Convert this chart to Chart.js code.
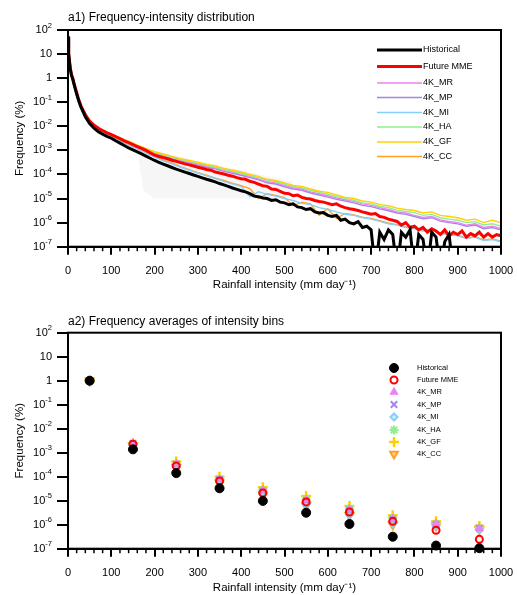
<!DOCTYPE html>
<html>
<head>
<meta charset="utf-8">
<script src="https://cdn.jsdelivr.net/npm/chart.js@4/dist/chart.umd.min.js"></script>
<style>
  body { margin: 0; background: #fff; width: 517px; height: 595px; overflow: hidden; position: relative; }
  canvas { position: absolute; left: 0; }
  #top { top: 0; }
  #bottom { top: 300px; }
</style>
</head>
<body>
<canvas id="top" width="517" height="300"></canvas>
<canvas id="bottom" width="517" height="295"></canvas>
<script>
// series names / colours
const seriesNames = ["Historical", "Future MME", "4K_MR", "4K_MP", "4K_MI", "4K_HA", "4K_GF", "4K_CC"];
const seriesColors = ["#000000", "#ff0000", "#ee82ee", "#a385ee", "#87cefa", "#90ee90", "#ffd000", "#ffa020"];

// y ticks: value, base text, exponent text
const yTickValues = [1e-7, 1e-6, 1e-5, 1e-4, 1e-3, 1e-2, 1e-1, 1, 10, 100];
const yTickBase = ["10", "10", "10", "10", "10", "10", "10", "1", "10", "10"];
const yTickExp = ["-7", "-6", "-5", "-4", "-3", "-2", "-1", "", "", "2"];

// a1) rainfall intensity (mm/day) vs frequency (%)
const fineX = [0, 1, 2, 3, 5, 8, 11, 15, 20, 25, 30, 40, 50, 60, 70, 80, 90,
  100, 110, 120, 130, 140, 150, 160, 170, 180, 190,
  200, 210, 220, 230, 240, 250, 260, 270, 280, 290,
  300, 310, 320, 330, 340, 350, 360, 370, 380, 390,
  400, 410, 420, 430, 440, 450, 460, 470, 480, 490,
  500, 510, 520, 530, 540, 550, 560, 570, 580, 590,
  600, 610, 620, 630, 640, 650, 660, 670, 680, 690,
  700, 710, 720, 730, 740, 750, 760, 770, 780, 790,
  800, 810, 820, 830, 840, 850, 860, 870, 880, 890,
  900, 910, 920, 930, 940, 950, 960, 970, 980, 990, 1000];

const histFreq = [50, 20, 10, 5.6, 2.6, 1.3, 0.9, 0.47, 0.22, 0.11, 0.063, 0.025, 0.013, 8.3e-3, 6.0e-3, 4.7e-3, 3.8e-3,
  3.2e-3, 2.5e-3, 2.0e-3, 1.6e-3, 1.26e-3, 1.05e-3, 8.7e-4, 7.2e-4, 5.8e-4, 4.7e-4,
  3.8e-4, 3.2e-4, 2.7e-4, 2.3e-4, 1.95e-4, 1.66e-4, 1.45e-4, 1.26e-4, 1.1e-4, 9.5e-5,
  8.3e-5, 7.2e-5, 6.3e-5, 5.6e-5, 4.9e-5, 4.2e-5, 3.7e-5, 3.2e-5, 2.75e-5, 2.4e-5,
  2.1e-5, 1.9e-5, 1.6e-5, 1.26e-5, 1.2e-5, 1.05e-5, 1.0e-5, 8.3e-6, 8.9e-6, 7.1e-6,
  6.6e-6, 5.6e-6, 6.0e-6, 4.5e-6, 4.2e-6, 3.5e-6, 3.8e-6, 2.8e-6, 2.5e-6, 2.6e-6,
  2.0e-6, 1.8e-6, 2.0e-6, 1.26e-6, 1.4e-6, 1.0e-6, 8.9e-7, 1.1e-6, 6.3e-7, 7.1e-7,
  5.0e-7, 1e-8, 4.0e-7, 2.0e-7, 5.0e-7, 3.2e-7, 1e-8, 4.0e-7, 2.5e-7, 5.0e-7,
  1e-8, 3.2e-7, 2.0e-7, 1e-8, 4.0e-7, 2.5e-7, 1e-8, 1.6e-7, 3.2e-7, 1e-8,
  null, null, null, null, null, null, null, null, null, null, null];

const mmeFreq = [56, 21, 10.7, 6.0, 2.8, 1.4, 1.0, 0.52, 0.25, 0.126, 0.071, 0.030, 0.0166, 0.011, 8.3e-3, 6.6e-3, 5.4e-3,
  4.5e-3, 3.7e-3, 3.1e-3, 2.5e-3, 2.1e-3, 1.74e-3, 1.45e-3, 1.2e-3, 1.0e-3, 7.9e-4,
  6.3e-4, 5.6e-4, 5.0e-4, 4.5e-4, 3.9e-4, 3.5e-4, 3.1e-4, 2.75e-4, 2.5e-4, 2.24e-4,
  2.0e-4, 1.8e-4, 1.6e-4, 1.5e-4, 1.26e-4, 1.15e-4, 1.05e-4, 9.3e-5, 8.5e-5, 7.4e-5,
  6.6e-5, 6.3e-5, 5.2e-5, 4.7e-5, 4.0e-5, 3.4e-5, 3.2e-5, 2.5e-5, 2.4e-5, 2.0e-5,
  1.66e-5, 1.6e-5, 1.3e-5, 1.4e-5, 1.12e-5, 1.0e-5, 9.5e-6, 8.3e-6, 7.6e-6, 7.1e-6,
  6.3e-6, 5.6e-6, 6.0e-6, 4.8e-6, 4.2e-6, 3.8e-6, 3.5e-6, 3.2e-6, 2.8e-6, 2.5e-6,
  2.24e-6, 2.4e-6, 1.8e-6, 1.66e-6, 1.4e-6, 1.26e-6, 1.12e-6, 7.9e-7, 1.0e-6, 6.3e-7,
  7.1e-7, 5.0e-7, 6.3e-7, 4.0e-7, 5.6e-7, 4.5e-7, 3.2e-7, 5.0e-7, 2.8e-7, 4.0e-7,
  3.2e-7, 4.5e-7, 2.5e-7, 3.5e-7, 2.8e-7, 4.0e-7, 2.5e-7, 3.5e-7, 2.5e-7, 3.2e-7, 2.8e-7];

const coarseX = [0, 2, 5, 10, 20, 30, 50, 75,
  100, 120, 140, 160, 180, 200, 220, 240, 260, 280, 300, 320, 340, 360, 380,
  400, 420, 440, 460, 480, 500, 520, 540, 560, 580, 600, 620, 640, 660, 680,
  700, 720, 740, 760, 780, 800, 820, 840, 860, 880, 900, 920, 940, 960, 980, 1000];

const mrFreq = [55, 10.5, 2.8, 1.1, 0.25, 0.07, 0.017, 7.5e-3,
  4.7e-3, 3.2e-3, 2.3e-3, 1.6e-3, 1.12e-3, 7.9e-4, 6.3e-4, 5.0e-4, 4.0e-4, 3.3e-4,
  2.75e-4, 2.24e-4, 1.9e-4, 1.5e-4, 1.26e-4, 1.05e-4, 8.3e-5, 6.6e-5, 5.0e-5, 4.5e-5,
  3.5e-5, 2.8e-5, 2.5e-5, 1.9e-5, 1.6e-5, 1.3e-5, 1.05e-5, 8.9e-6, 7.6e-6, 6.0e-6,
  5.2e-6, 4.2e-6, 3.5e-6, 2.8e-6, 2.5e-6, 2.0e-6, 1.66e-6, 1.8e-6, 1.3e-6, 1.12e-6,
  1.0e-6, 7.9e-7, 8.9e-7, 6.3e-7, 7.1e-7, 5.6e-7];
const mpFreq = [55, 10.5, 2.8, 1.1, 0.25, 0.07, 0.017, 7.5e-3,
  4.6e-3, 3.1e-3, 2.2e-3, 1.5e-3, 1.05e-3, 7.4e-4, 5.9e-4, 4.6e-4, 3.7e-4, 3.0e-4,
  2.5e-4, 2.0e-4, 1.7e-4, 1.35e-4, 1.12e-4, 9.3e-5, 7.4e-5, 6.0e-5, 4.5e-5, 4.0e-5,
  3.1e-5, 2.5e-5, 2.2e-5, 1.7e-5, 1.4e-5, 1.15e-5, 9.3e-6, 7.9e-6, 6.6e-6, 5.2e-6,
  4.6e-6, 3.7e-6, 3.1e-6, 2.5e-6, 2.2e-6, 1.8e-6, 1.45e-6, 1.6e-6, 1.15e-6, 1.0e-6,
  8.9e-7, 7.1e-7, 7.9e-7, 5.6e-7, 6.3e-7, 5.0e-7];
const miFreq = [55, 10.5, 2.8, 1.1, 0.25, 0.07, 0.017, 7.5e-3,
  3.8e-3, 2.5e-3, 1.66e-3, 1.15e-3, 7.9e-4, 5.2e-4, 3.7e-4, 2.75e-4, 2.0e-4, 1.5e-4,
  1.15e-4, 8.7e-5, 6.8e-5, 5.2e-5, 4.0e-5, 3.2e-5, 1.2e-5, 1.9e-5, 1.5e-5, 1.26e-5,
  1.0e-5, 8.3e-6, 6.3e-6, 5.6e-6, 4.2e-6, 3.5e-6, 2.8e-6, 2.24e-6, 2.0e-6, 1.6e-6,
  1.4e-6, 1.12e-6, 8.9e-7, 7.9e-7, 6.3e-7, 5.6e-7, 4.5e-7, 5.0e-7, 3.5e-7, 3.2e-7,
  2.8e-7, 2.2e-7, 2.5e-7, 1.8e-7, 2.0e-7, 1.6e-7];
const haFreq = [55, 10.5, 2.8, 1.1, 0.25, 0.07, 0.017, 7.5e-3,
  4.7e-3, 3.2e-3, 2.3e-3, 1.6e-3, 1.15e-3, 8.3e-4, 6.6e-4, 5.2e-4, 4.2e-4, 3.5e-4,
  2.9e-4, 2.4e-4, 2.0e-4, 1.6e-4, 1.35e-4, 1.1e-4, 8.9e-5, 7.4e-5, 5.8e-5, 5.0e-5,
  4.0e-5, 3.2e-5, 2.8e-5, 2.2e-5, 1.8e-5, 1.5e-5, 1.2e-5, 1.0e-5, 8.5e-6, 6.6e-6,
  6.0e-6, 4.7e-6, 4.2e-6, 3.3e-6, 2.9e-6, 2.6e-6, 2.0e-6, 2.2e-6, 1.6e-6, 1.4e-6,
  1.26e-6, 1.0e-6, 1.1e-6, 8.0e-7, 9.0e-7, 7.0e-7];
const gfFreq = [55, 10.5, 2.8, 1.1, 0.25, 0.07, 0.017, 7.5e-3,
  4.8e-3, 3.3e-3, 2.4e-3, 1.66e-3, 1.2e-3, 8.9e-4, 7.1e-4, 5.6e-4, 4.5e-4, 3.8e-4,
  3.2e-4, 2.6e-4, 2.24e-4, 1.8e-4, 1.5e-4, 1.26e-4, 1.0e-4, 8.3e-5, 6.3e-5, 5.6e-5,
  4.5e-5, 3.5e-5, 3.2e-5, 2.5e-5, 2.0e-5, 1.8e-5, 1.4e-5, 1.12e-5, 1.0e-5, 7.9e-6,
  7.1e-6, 5.6e-6, 5.0e-6, 4.0e-6, 3.5e-6, 3.2e-6, 2.5e-6, 2.8e-6, 2.0e-6, 1.8e-6,
  1.6e-6, 1.26e-6, 1.4e-6, 1.0e-6, 1.26e-6, 1.0e-6];
const ccFreq = [55, 10.5, 2.8, 1.1, 0.25, 0.07, 0.017, 7.5e-3,
  4.0e-3, 2.6e-3, 1.74e-3, 1.2e-3, 8.3e-4, 5.6e-4, 4.0e-4, 3.0e-4, 2.1e-4, 1.6e-4,
  1.2e-4, 9.3e-5, 7.1e-5, 5.6e-5, 4.3e-5, 3.4e-5, 2.6e-5, 1.0e-5, 1.6e-5, 1.35e-5,
  1.1e-5, 5.0e-6, 7.1e-6, 6.0e-6, 2.0e-6, 3.8e-6, 1.5e-6, 2.4e-6, 2.1e-6, 1.7e-6,
  1.5e-6, 1.2e-6, 9.5e-7, 8.3e-7, 6.6e-7, 5.9e-7, 4.8e-7, 5.2e-7, 3.7e-7, 3.3e-7,
  3.0e-7, 2.3e-7, 2.6e-7, 1.9e-7, 2.1e-7, 1.7e-7];

// faint spread of the ensemble members
const spreadX = [160, 175, 200, 300, 400, 470, 520];
const spreadHi = [1.6e-3, 1.4e-3, 1.0e-3, 3.6e-4, 1.5e-4, 8e-5, 5e-5];
const spreadLo = [8e-4, 2e-5, 1e-5, 1e-5, 1e-5, 1e-5, 1.5e-5];

// a2) bin centres and bin-averaged frequency (%)
const binX = [50, 150, 250, 350, 450, 550, 650, 750, 850, 950];
const histBin = [1.0, 1.38e-3, 1.41e-4, 3.3e-5, 9.8e-6, 3.16e-6, 1.07e-6, 3.16e-7, 1.35e-7, 1.05e-7];
const mmeBin = [1.0, 2.24e-3, 2.8e-4, 6.6e-5, 2.1e-5, 8.9e-6, 3.4e-6, 1.38e-6, 5.9e-7, 2.45e-7];
const mrBin = [1.0, 2.5e-3, 3.5e-4, 7.9e-5, 2.8e-5, 1.12e-5, 4.5e-6, 1.78e-6, 1.12e-6, 7.1e-7];
const mpBin = [1.0, 2.4e-3, 3.3e-4, 7.6e-5, 2.5e-5, 1.0e-5, 4.0e-6, 1.66e-6, 1.0e-6, 7.1e-7];
const miBin = [1.0, 2.1e-3, 2.6e-4, 6.0e-5, 1.9e-5, 7.1e-6, 2.6e-6, 1.12e-6, 8.9e-7, 6.3e-7];
const haBin = [1.0, 2.5e-3, 3.5e-4, 8.3e-5, 2.8e-5, 1.12e-5, 4.5e-6, 1.9e-6, 1.12e-6, 7.6e-7];
const gfBin = [1.0, 2.5e-3, 4.3e-4, 1.0e-4, 3.6e-5, 1.58e-5, 6.0e-6, 2.5e-6, 1.4e-6, 8.9e-7];
const ccBin = [1.0, 2.0e-3, 2.5e-4, 5.6e-5, 1.78e-5, 6.3e-6, 2.5e-6, 1.0e-6, 8.9e-7, 6.3e-7];

const FONT = '"Liberation Sans", Arial, Helvetica, sans-serif';
Chart.defaults.font.family = FONT;
Chart.defaults.color = "#000";

function pairs(xs, ys) {
  return xs.map((x, k) => ({ x: x, y: ys[k] }));
}

function axes(xHeight, xTitlePad) {
  return {
    x: {
      type: "linear", min: 0, max: 1000,
      afterFit: s => { s.height = xHeight; s.paddingLeft = 0; s.paddingRight = 0; },
      ticks: { stepSize: 100, autoSkip: false, maxRotation: 0, padding: 10, font: { size: 11 }, callback: v => String(v) },
      grid: { drawOnChartArea: false, tickLength: 8, tickWidth: 2, lineWidth: 2, tickColor: "#000" },
      border: { display: true, color: "#000", width: 2 },
      title: { display: true, text: "Rainfall intensity (mm day⁻¹)", font: { size: 11.5 }, padding: { top: 0, bottom: xTitlePad } }
    },
    y: {
      type: "logarithmic", min: 1e-7, max: 100,
      afterBuildTicks: s => { s.ticks = yTickValues.map(v => ({ value: v })); },
      afterFit: s => { s.width = 68; },
      ticks: { display: false, autoSkip: false },
      grid: { drawOnChartArea: false, tickLength: 11, tickWidth: 2, lineWidth: 2, tickColor: "#000" },
      border: { display: true, color: "#000", width: 2 },
      title: { display: true, text: "Frequency (%)", font: { size: 11.5 }, padding: { top: 13, bottom: 0 } }
    }
  };
}

// box round the plot, minor x ticks, y labels with exponents, panel title
function framePlugin(titleText, titleY) {
  return {
    id: "frame",
    afterDatasetsDraw(chart) {
      const { ctx, chartArea: a } = chart;
      const xs = chart.scales.x;
      const ys = chart.scales.y;
      ctx.save();
      ctx.strokeStyle = "#000";
      ctx.lineWidth = 2;
      ctx.strokeRect(a.left, a.top, a.right - a.left, a.bottom - a.top);
      ctx.lineWidth = 1.5;
      for (let v = 20; v < 1000; v += 20) {
        if (v % 100 === 0) continue;
        const px = xs.getPixelForValue(v);
        ctx.beginPath();
        ctx.moveTo(px, a.bottom);
        ctx.lineTo(px, a.bottom + 4.5);
        ctx.stroke();
      }
      ctx.fillStyle = "#000";
      ctx.textBaseline = "middle";
      ctx.textAlign = "left";
      const right = 52;
      yTickValues.forEach((v, i) => {
        const py = ys.getPixelForValue(v);
        ctx.font = "7.5px " + FONT;
        const ew = yTickExp[i] ? ctx.measureText(yTickExp[i]).width : 0;
        ctx.font = "11px " + FONT;
        const bw = ctx.measureText(yTickBase[i]).width;
        ctx.fillText(yTickBase[i], right - ew - bw, py);
        if (yTickExp[i]) {
          ctx.font = "7.5px " + FONT;
          ctx.fillText(yTickExp[i], right - ew, py - 4.5);
        }
      });
      ctx.font = "12px " + FONT;
      ctx.fillText(titleText, a.left, titleY);
      ctx.restore();
    }
  };
}

// legend of panel a1
const lineRows = [50, 66.5, 83, 97.5, 112.5, 127, 142, 156.5];
const lineLegend = {
  id: "lineLegend",
  afterDraw(chart) {
    const ctx = chart.ctx;
    ctx.save();
    ctx.font = "9px " + FONT;
    ctx.textBaseline = "middle";
    seriesNames.forEach((name, i) => {
      const y = lineRows[i];
      ctx.strokeStyle = seriesColors[i];
      ctx.lineWidth = i < 2 ? 3 : 1.5;
      ctx.beginPath();
      ctx.moveTo(377, y);
      ctx.lineTo(422, y);
      ctx.stroke();
      ctx.fillStyle = "#000";
      ctx.fillText(name, 423, y);
    });
    ctx.restore();
  }
};

function line(i, xs, ys, width) {
  return {
    label: seriesNames[i], data: pairs(xs, ys),
    borderColor: seriesColors[i], borderWidth: width,
    pointRadius: 0, tension: 0, fill: false
  };
}

new Chart(document.getElementById("top"), {
  type: "line",
  data: {
    datasets: [
      line(0, fineX, histFreq, 3),
      line(1, fineX, mmeFreq, 3),
      line(6, coarseX, gfFreq, 1.4),
      line(5, coarseX, haFreq, 1.4),
      line(2, coarseX, mrFreq, 1.4),
      line(3, coarseX, mpFreq, 1.4),
      line(4, coarseX, miFreq, 1.4),
      line(7, coarseX, ccFreq, 1.4),
      { label: "spread", data: pairs(spreadX, spreadHi), borderWidth: 0, pointRadius: 0,
        backgroundColor: "rgba(150,150,150,0.09)", fill: "+1" },
      { label: "spread low", data: pairs(spreadX, spreadLo), borderWidth: 0, pointRadius: 0, fill: false }
    ]
  },
  options: {
    responsive: false,
    animation: false,
    layout: { padding: { top: 30, right: 16, left: 0, bottom: 0 } },
    plugins: { legend: { display: false }, tooltip: { enabled: false } },
    scales: axes(53.3, 8)
  },
  plugins: [framePlugin("a1) Frequency-intensity distribution", 18), lineLegend]
});

// markers of panel a2
const markerStyles = [
  { pointStyle: "circle", radius: 4.5, bg: "#000000", border: "#000000", bw: 1 },
  { pointStyle: "circle", radius: 3.5, bg: "rgba(255,255,255,0)", border: "#ff0000", bw: 2 },
  { pointStyle: "triangle", radius: 4.5, bg: "#ee82ee", border: "#ee82ee", bw: 1 },
  { pointStyle: "crossRot", radius: 4.5, bg: "#a385ee", border: "#a385ee", bw: 2 },
  { pointStyle: "rectRot", radius: 3.5, bg: "rgba(135,206,250,0.35)", border: "#87cefa", bw: 2 },
  { pointStyle: "star", radius: 4.5, bg: "#90ee90", border: "#90ee90", bw: 2 },
  { pointStyle: "cross", radius: 5, bg: "#ffd000", border: "#ffd000", bw: 2.5 },
  { pointStyle: "triangle", radius: 4.5, bg: "#ffd9a0", border: "#ffa020", bw: 2, rotation: 180 }
];
const binSeries = [histBin, mmeBin, mrBin, mpBin, miBin, haBin, gfBin, ccBin];

const markerRows = [68, 80, 92, 104.5, 117, 130, 142, 154];
const markerLegend = {
  id: "markerLegend",
  afterDraw(chart) {
    const ctx = chart.ctx;
    ctx.save();
    ctx.font = "7.5px " + FONT;
    ctx.textBaseline = "middle";
    seriesNames.forEach((name, i) => {
      const m = markerStyles[i];
      const y = markerRows[i];
      ctx.fillStyle = m.bg;
      ctx.strokeStyle = m.border;
      ctx.lineWidth = m.bw;
      Chart.helpers.drawPoint(ctx, { pointStyle: m.pointStyle, radius: m.radius, rotation: m.rotation || 0, borderWidth: m.bw }, 394, y);
      ctx.fillStyle = "#000";
      ctx.fillText(name, 417, y);
    });
    ctx.restore();
  }
};

new Chart(document.getElementById("bottom"), {
  type: "scatter",
  data: {
    datasets: binSeries.map((vals, i) => ({
      label: seriesNames[i],
      data: pairs(binX, vals),
      pointStyle: markerStyles[i].pointStyle,
      pointRadius: markerStyles[i].radius,
      pointRotation: markerStyles[i].rotation || 0,
      pointBackgroundColor: markerStyles[i].bg,
      pointBorderColor: markerStyles[i].border,
      pointBorderWidth: markerStyles[i].bw,
      showLine: false,
      clip: false
    }))
  },
  options: {
    responsive: false,
    animation: false,
    layout: { padding: { top: 32.7, right: 16, left: 0, bottom: 0 } },
    plugins: { legend: { display: false }, tooltip: { enabled: false } },
    scales: axes(46.3, 0)
  },
  plugins: [framePlugin("a2) Frequency averages of intensity bins", 21.5), markerLegend]
});
</script>
</body>
</html>
